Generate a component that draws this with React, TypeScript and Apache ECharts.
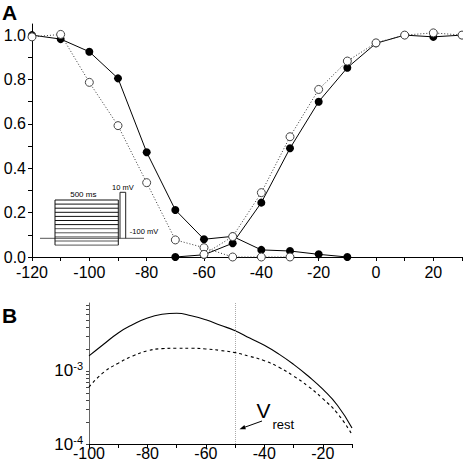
import { useEffect, useRef } from "react";
import * as echarts from "echarts";

// ---- Panel A data (normalized conductance / availability) ----
const inactVolt = [-120, -110, -100, -90, -80, -70, -60, -50, -40, -30, -20, -10];
const inactFilled = [1.0, 0.982, 0.925, 0.805, 0.472, 0.212, 0.08, 0.093, 0.032, 0.027, 0.012, 0.0];
const inactOpenVolt = [-120, -110, -100, -90, -80, -70, -60, -50, -40, -30];
const inactOpen = [0.992, 1.003, 0.787, 0.592, 0.335, 0.077, 0.042, 0.0, 0.0, 0.0];
const actVolt = [-70, -60, -50, -40, -30, -20, -10, 0, 10, 20, 30];
const actFilled = [0.0, 0.01, 0.062, 0.245, 0.49, 0.7, 0.853, 0.963, 1.0, 0.992, 1.0];
const actOpenVolt = [-60, -50, -40, -30, -20, -10, 0, 10, 20, 30];
const actOpen = [0.012, 0.092, 0.29, 0.542, 0.755, 0.883, 0.965, 1.0, 1.01, 1.0];

// ---- Panel B data (window current, log scale) ----
const voltB = [-100, -95, -90, -85, -80, -75, -70, -65, -60, -55, -50, -45, -40, -35, -30, -25, -20, -15, -10];
const windowSolid = [
  1.603e-3, 2.317e-3, 3.311e-3, 4.315e-3, 5.309e-3, 5.957e-3, 6.166e-3, 5.689e-3, 5.012e-3, 4.217e-3,
  3.548e-3, 2.818e-3, 2.239e-3, 1.698e-3, 1.23e-3, 8.51e-4, 5.62e-4, 3.39e-4, 1.66e-4,
];
const windowDashed = [
  6.03e-4, 9.55e-4, 1.274e-3, 1.603e-3, 1.884e-3, 2.018e-3, 2.042e-3, 2.042e-3, 1.995e-3, 1.905e-3,
  1.778e-3, 1.585e-3, 1.38e-3, 1.122e-3, 8.51e-4, 6.17e-4, 4.17e-4, 2.63e-4, 1.35e-4,
];
const vRest = -50;

// ---- Ticks / labels ----
const xTicksA = [-120, -110, -100, -90, -80, -70, -60, -50, -40, -30, -20, -10, 0, 10, 20, 30];
const xLabelsA = [-120, -100, -80, -60, -40, -20, 0, 20];
const yTicksA = [0, 0.1, 0.2, 0.3, 0.4, 0.5, 0.6, 0.7, 0.8, 0.9, 1.0];
const yLabelsA = [0, 0.2, 0.4, 0.6, 0.8, 1.0];
const xTicksB = [-100, -90, -80, -70, -60, -50, -40, -30, -20, -10];
const xLabelsB = [-100, -80, -60, -40, -20];
const yTicksB = [
  1e-4, 2e-4, 3e-4, 4e-4, 5e-4, 6e-4, 7e-4, 8e-4, 9e-4,
  1e-3, 2e-3, 3e-3, 4e-3, 5e-3, 6e-3, 7e-3, 8e-3,
];
const yLabelsB = [1e-4, 1e-3];

const FONT = "'Liberation Sans', Arial, Helvetica, sans-serif";

const zip = (xs: number[], ys: number[]) => xs.map((x, i) => [x, ys[i]]);

export default function App() {
  const ref = useRef<HTMLDivElement>(null);

  useEffect(() => {
    if (!ref.current) return;
    const chart = echarts.init(ref.current, undefined, { renderer: "svg" });

    const axisLineBlack = { show: true, onZero: false, lineStyle: { color: "#000", width: 1 } };
    const labelStyle = { color: "#000", fontSize: 16, fontFamily: FONT };

    const filledSeries = (data: number[][]) => ({
      type: "line",
      xAxisIndex: 0,
      yAxisIndex: 0,
      data,
      symbol: "circle",
      symbolSize: 8,
      clip: false,
      lineStyle: { color: "#000", width: 1 },
      itemStyle: { color: "#000" },
    });
    const openSeries = (data: number[][]) => ({
      type: "line",
      xAxisIndex: 0,
      yAxisIndex: 0,
      data,
      symbol: "circle",
      symbolSize: 8,
      clip: false,
      lineStyle: { color: "#333", width: 1, type: [1, 2] },
      itemStyle: { color: "#fff", borderColor: "#444", borderWidth: 1 },
    });

    const stepLines: any[] = [];
    for (let i = 0; i < 12; i++) {
      const y = 200 + i * 4.1;
      stepLines.push({
        type: "line",
        shape: { x1: 55, y1: y, x2: 118.3, y2: y },
        style: { stroke: i < 7 ? "#111" : "#555", lineWidth: 1 },
      });
    }

    const option: any = {
      animation: false,
      backgroundColor: "#fff",
      textStyle: { fontFamily: FONT },
      grid: [
        { left: 32, right: 1, top: 24, bottom: 208, containLabel: false, outerBoundsMode: "none" },
        { left: 89, right: 111, top: 303, bottom: 21, containLabel: false, outerBoundsMode: "none" },
      ],
      xAxis: [
        {
          type: "value",
          gridIndex: 0,
          min: -120,
          max: 30,
          axisLine: axisLineBlack,
          axisTick: { show: true, length: 4, customValues: xTicksA, lineStyle: { color: "#000" } },
          axisLabel: { ...labelStyle, customValues: xLabelsA, margin: 7 },
          splitLine: { show: false },
        },
        {
          type: "value",
          gridIndex: 1,
          min: -100,
          max: -10,
          axisLine: axisLineBlack,
          axisTick: { show: true, length: 4, customValues: xTicksB, lineStyle: { color: "#000" } },
          axisLabel: { ...labelStyle, customValues: xLabelsB, margin: 1 },
          splitLine: { show: false },
        },
      ],
      yAxis: [
        {
          type: "value",
          gridIndex: 0,
          min: 0,
          max: 1.05,
          axisLine: axisLineBlack,
          axisTick: { show: true, length: 4, customValues: yTicksA, lineStyle: { color: "#000" } },
          axisLabel: {
            ...labelStyle,
            customValues: yLabelsA,
            margin: 6,
            formatter: (v: number) => v.toFixed(1),
          },
          splitLine: { show: false },
        },
        {
          type: "log",
          logBase: 10,
          gridIndex: 1,
          min: 1e-4,
          max: 0.0085,
          axisLine: { show: true, onZero: false, lineStyle: { color: "#666", width: 1 } },
          axisTick: { show: true, length: 3, customValues: yTicksB, lineStyle: { color: "#444" } },
          axisLabel: {
            customValues: yLabelsB,
            margin: 6,
            formatter: (v: number) => `{b|10}{s|${Math.round(Math.log10(v))}}`,
            rich: {
              b: { fontSize: 17, color: "#000", fontFamily: FONT, lineHeight: 20 },
              s: { fontSize: 11, color: "#000", fontFamily: FONT, verticalAlign: "top", lineHeight: 11 },
            },
          },
          splitLine: { show: false },
        },
      ],
      series: [
        filledSeries(zip(actVolt, actFilled)),
        filledSeries(zip(inactVolt, inactFilled)),
        openSeries(zip(inactOpenVolt, inactOpen)),
        openSeries(zip(actOpenVolt, actOpen)),
        {
          type: "line",
          xAxisIndex: 1,
          yAxisIndex: 1,
          data: zip(voltB, windowSolid),
          smooth: true,
          symbol: "none",
          lineStyle: { color: "#000", width: 1.1 },
          markLine: {
            silent: true,
            symbol: "none",
            label: { show: false },
            lineStyle: { color: "#aaa", type: [1, 1], width: 1 },
            data: [{ xAxis: vRest }],
          },
        },
        {
          type: "line",
          xAxisIndex: 1,
          yAxisIndex: 1,
          data: zip(voltB, windowDashed),
          smooth: true,
          symbol: "none",
          lineStyle: { color: "#000", width: 1.1, type: [3, 3] },
        },
      ],
      graphic: [
        {
          type: "text",
          x: 2,
          y: 12.5,
          style: { text: "A", font: `bold 21px ${FONT}`, fill: "#000", verticalAlign: "middle" },
        },
        {
          type: "text",
          x: 2,
          y: 315,
          style: { text: "B", font: `bold 21px ${FONT}`, fill: "#000", verticalAlign: "middle" },
        },
        // Voltage protocol inset
        {
          type: "line",
          shape: { x1: 40, y1: 238.3, x2: 144, y2: 238.3 },
          style: { stroke: "#777", lineWidth: 1.2 },
        },
        ...stepLines,
        {
          type: "line",
          shape: { x1: 55, y1: 200, x2: 55, y2: 245.1 },
          style: { stroke: "#111", lineWidth: 1 },
        },
        {
          type: "line",
          shape: { x1: 118.3, y1: 200, x2: 118.3, y2: 245.1 },
          style: { stroke: "#111", lineWidth: 1 },
        },
        {
          type: "polyline",
          shape: { points: [[120, 238.3], [120, 192.3], [125.7, 192.3], [125.7, 238.3]] },
          style: { stroke: "#222", lineWidth: 1, fill: "none" },
        },
        {
          type: "text",
          x: 83.3,
          y: 194,
          style: { text: "500 ms", font: `8px ${FONT}`, fill: "#000", align: "center", verticalAlign: "middle" },
        },
        {
          type: "text",
          x: 122.8,
          y: 187.5,
          style: { text: "10 mV", font: `7.5px ${FONT}`, fill: "#000", align: "center", verticalAlign: "middle" },
        },
        {
          type: "text",
          x: 144,
          y: 231.3,
          style: { text: "-100 mV", font: `7.5px ${FONT}`, fill: "#000", align: "center", verticalAlign: "middle" },
        },
        // V_rest annotation
        {
          type: "text",
          x: 256.5,
          y: 410.8,
          style: { text: "V", font: `21px ${FONT}`, fill: "#000", verticalAlign: "middle" },
        },
        {
          type: "text",
          x: 272.5,
          y: 424,
          style: { text: "rest", font: `13px ${FONT}`, fill: "#000", verticalAlign: "middle" },
        },
        {
          type: "line",
          shape: { x1: 262, y1: 421, x2: 244.5, y2: 427.3 },
          style: { stroke: "#000", lineWidth: 1 },
        },
        {
          type: "polygon",
          shape: { points: [[239.5, 429.3], [245.9, 429.3], [244.4, 425.1]] },
          style: { fill: "#000" },
        },
      ],
    };

    chart.setOption(option);
    return () => chart.dispose();
  }, []);

  return (
    <div
      ref={ref}
      style={{ position: "absolute", left: 0, top: 0, width: 463, height: 465, background: "#fff" }}
    />
  );
}
